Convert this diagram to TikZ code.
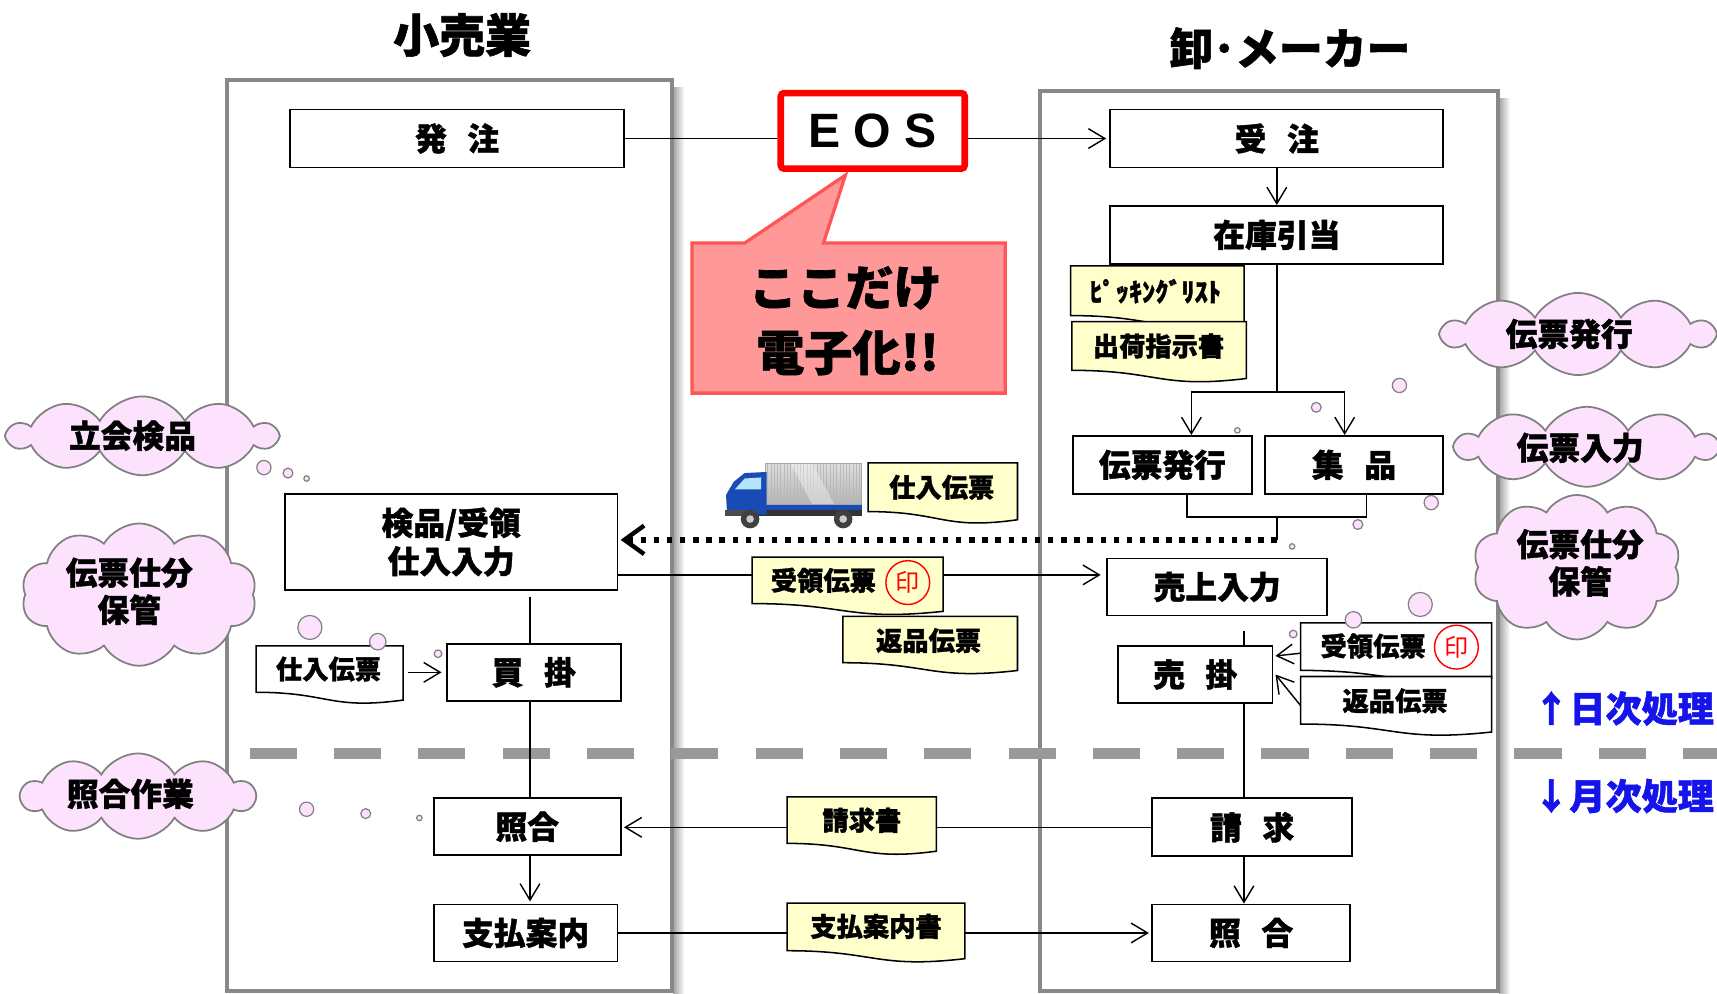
\documentclass[tikz,border=0pt]{standalone}
\usepackage{fontspec}
\setmainfont{Noto Sans CJK JP}[BoldFeatures={FakeBold=1.3}]
\newfontfamily\eosfont{Liberation Sans}
\usetikzlibrary{arrows.meta,calc,shapes.symbols,shapes.geometric}

\definecolor{lanegray}{RGB}{136,136,136}
\definecolor{cloudfill}{RGB}{252,226,252}
\definecolor{cloudedge}{RGB}{128,128,128}
\definecolor{docyellow}{RGB}{255,255,204}
\definecolor{calloutfill}{RGB}{255,153,153}
\definecolor{calloutedge}{RGB}{255,85,85}
\definecolor{eosred}{RGB}{255,0,0}
\definecolor{phaseblue}{RGB}{20,20,235}
\definecolor{truckblue}{RGB}{25,75,180}

\newcommand\fsz[1]{\fontsize{#1}{#1}\selectfont}

\pgfdeclarelayer{lanes}
\pgfdeclarelayer{links}
\pgfsetlayers{lanes,links,main}

% document symbol: flat top, wavy bottom, drawn around an empty body node
\newcommand\docshape[2]{%
  \path[docedge, fill=#2] let \p1=(#1.north), \p2=(#1.south), \n1={\y1-\y2} in
    (#1.north west) -- (#1.north east) -- ([yshift=-0.1675*\n1]#1.south east)
    .. controls ([yshift=-0.384*\n1]#1.south) and (#1.south) .. (#1.south west) -- cycle;}

\begin{document}
\begin{tikzpicture}[x=1pt,y=-1pt,
  lanebox/.style={draw=lanegray, line width=3.5pt, inner sep=0pt},
  proc/.style={draw, line width=1.6pt, fill=white, inner sep=0pt, font=\fsz{29}\bfseries},
  conn/.style={line width=1.3pt},
  arr/.style={conn, -{Straight Barb[length=15pt,width=18pt]}},
  shipline/.style={line width=5pt, dash pattern=on 5pt off 7pt,
    -{Straight Barb[length=18pt,width=26pt,line width=4pt]}},
  phaseline/.style={line width=10pt, black!40, dash pattern=on 43pt off 34pt},
  docbody/.style={inner sep=0pt},
  docedge/.style={draw, line width=1.4pt},
  doctext/.style={inner sep=0pt, font=\fsz{24}\bfseries},
  stamp/.style={circle, draw=red, line width=1.3pt, text=red, inner sep=0pt,
    minimum size=40pt, font=\fsz{22}},
  cloudbox/.style={cloud, cloud puffs=10, cloud puff arc=120, cloud ignores aspect,
    draw=cloudedge, fill=cloudfill, line width=1.6pt, inner sep=0pt},
  cloudtext/.style={inner sep=0pt, align=center, font=\fontsize{29}{34}\selectfont\bfseries},
  bubble/.style={circle, draw=cloudedge, fill=cloudfill, line width=1.1pt, inner sep=0pt},
  title/.style={inner sep=0pt, font=\fsz{42}\bfseries},
  phase/.style={anchor=west, inner sep=0pt, text=phaseblue, font=\fsz{33}\bfseries}]

\useasboundingbox (0,0) rectangle (1568,907);

% ---------- lanes and the daily/monthly divider ----------
\begin{pgfonlayer}{lanes}
  \shade[left color=black!35, right color=white] (615,80) rectangle (625,907);
  \shade[left color=black!35, right color=white] (1369,90) rectangle (1379,907);
  \node[lanebox, minimum width=407pt, minimum height=832pt] (laneL) at (410.5,489) {};
  \node[lanebox, minimum width=418pt, minimum height=822pt] (laneR) at (1159,494) {};
  \coordinate (divL) at (228,688);
  \coordinate (divR) at (1568,688);
  \draw[phaseline] (divL) -- (divR);
\end{pgfonlayer}

\node[title] (retail) at (422,32) {小売業};
\node[title, font=\fsz{40}\bfseries] (maker) at (1178,44) {卸･メーカー};

% ---------- process boxes ----------
\node[proc, minimum width=305pt, minimum height=53pt] (hatchu) at (417.5,126.5) {発\hspace{.65em}注};
\node[proc, minimum width=304pt, minimum height=88pt, align=center,
      font=\fontsize{29}{35}\selectfont\bfseries] (kenpin) at (412,495) {検品/受領\\仕入入力};
\node[proc, minimum width=159pt, minimum height=52pt] (kaikake) at (487.5,614) {買\hspace{.65em}掛};
\node[proc, minimum width=171pt, minimum height=52pt] (shogoL) at (481.5,755) {照合};
\node[proc, minimum width=168pt, minimum height=52pt] (shiharai) at (480,852) {支払案内};

\node[proc, minimum width=304pt, minimum height=53pt] (juchu) at (1166,126.5) {受\hspace{.65em}注};
\node[proc, minimum width=304pt, minimum height=53pt] (zaiko) at (1166,214.5) {在庫引当};
\node[proc, minimum width=163pt, minimum height=53pt] (denpyo) at (1061.5,424.5) {伝票発行};
\node[proc, minimum width=163pt, minimum height=53pt] (shuhin) at (1236.5,424.5) {集\hspace{.65em}品};
\node[proc, minimum width=201pt, minimum height=52pt] (uriage) at (1111.5,536) {売上入力};
\node[proc, minimum width=141pt, minimum height=52pt] (urikake) at (1091.5,616) {売\hspace{.65em}掛};
\node[proc, minimum width=183pt, minimum height=53pt] (seikyu) at (1143.5,755.5) {請\hspace{.65em}求};
\node[proc, minimum width=181pt, minimum height=52pt] (shogoR) at (1142.5,852) {照\hspace{.65em}合};

% ---------- EOS and the callout ----------
\node[draw=eosred, line width=6pt, fill=white, rounded corners=3pt, inner sep=0pt,
      minimum width=168pt, minimum height=69pt, font=\eosfont\bfseries\fsz{44}]
      (eos) at (797,119.5) {E O S};
\path[fill=calloutfill, draw=calloutedge, line width=3pt, line join=miter]
  (632,222) -- (680,222) -- (772,160) -- (752,222) -- (918,222) -- (918,359) -- (632,359) -- cycle;
\node[inner sep=0pt, font=\fsz{44}\bfseries] (calloutA) at (772,263) {ここだけ};
\node[inner sep=0pt, font=\fsz{44}\bfseries] (calloutB) at (774,322) {電子化!!};

% ---------- connectors ----------
\coordinate (lx) at (484,0);
\coordinate (rx) at (1136,0);
\coordinate (split) at (1166,358);
\coordinate (merge) at (1166,472);
\coordinate (ship) at (1166,493);
\coordinate (dIn) at ($(denpyo.north)+(26.5,0)$);
\coordinate (sIn) at ($(shuhin.north)+(-8.5,0)$);
\coordinate (dOut) at ($(denpyo.south)+(22.5,0)$);
\coordinate (sOut) at ($(shuhin.south)+(11.5,0)$);
\coordinate (kOut) at ($(kenpin.east)+(0,30)$);

\begin{pgfonlayer}{links}
  \draw[conn] (hatchu.east) -- (hatchu.east -| eos.west);
  \draw[arr] (juchu.west -| eos.east) -- ([xshift=-3pt]juchu.west);
  \draw[arr] (juchu.south) -- (zaiko.north);
  \draw[conn] (zaiko.south) -- (split);
  \draw[arr] (split) -| (dIn);
  \draw[arr] (split) -| (sIn);
  \draw[conn] (dOut) -- (dOut |- merge) -- (sOut |- merge) -- (sOut);
  \draw[conn] (merge) -- (ship);
  \draw[shipline] (ship) -- ([xshift=2pt]ship -| kenpin.east);
  \draw[arr] (kOut) -- ([xshift=-5pt]kOut -| uriage.west);
  \draw[conn] ($(kenpin.south -| lx)+(0,5)$) -- (kaikake.north -| lx);
  \draw[conn] (kaikake.south -| lx) -- (shogoL.north -| lx);
  \draw[arr] (shogoL.south -| lx) -- ([yshift=2pt]shiharai.north -| lx);
  \draw[arr] (seikyu.west) -- ([xshift=2pt]seikyu.west -| shogoL.east);
  \draw[arr] (shiharai.east) -- ([xshift=-2pt]shiharai.east -| shogoR.west);
  \draw[conn] ($(uriage.south -| rx)+(0,13)$) -- (urikake.north -| rx);
  \draw[conn] (urikake.south -| rx) -- (seikyu.north -| rx);
  \draw[arr] (seikyu.south -| rx) -- (shogoR.north -| rx);
\end{pgfonlayer}

% ---------- documents ----------
\node[docbody, minimum width=134pt, minimum height=42pt] (shiireL) at (301,611) {};
\docshape{shiireL}{white}
\node[doctext] (shiireLt) at (300,611) {仕入伝票};
\draw[arr] ([xshift=4pt]shiireL.east |- kaikake.west) -- ([xshift=-4pt]kaikake.west);

\node[docbody, minimum width=158pt, minimum height=45pt] (pick) at (1057,265.5) {};
\docshape{pick}{docyellow}
\node[doctext] (pickt) at (1055,266) {ﾋﾟｯｷﾝｸﾞﾘｽﾄ};

\node[docbody, minimum width=159pt, minimum height=44pt] (shukka) at (1058.5,316) {};
\docshape{shukka}{docyellow}
\node[doctext] (shukkat) at (1058,316) {出荷指示書};

\node[docbody, minimum width=136pt, minimum height=44pt] (shiireT) at (861,445) {};
\docshape{shiireT}{docyellow}
\node[doctext] (shiireTt) at (860,445) {仕入伝票};

\node[docbody, minimum width=174pt, minimum height=42pt] (juryoM) at (774,530) {};
\docshape{juryoM}{docyellow}
\node[doctext] (juryoMt) at (752,530) {受領伝票};
\node[stamp] (stampM) at (829,532) {印};

\node[docbody, minimum width=159pt, minimum height=42pt] (henpinM) at (849.5,584) {};
\docshape{henpinM}{docyellow}
\node[doctext] (henpinMt) at (848,585) {返品伝票};

\node[docbody, minimum width=136pt, minimum height=42pt] (seikyusho) at (787,749) {};
\docshape{seikyusho}{docyellow}
\node[doctext] (seikyushot) at (787,749) {請求書};

\node[docbody, minimum width=162pt, minimum height=43pt] (shiharaisho) at (800,846.5) {};
\docshape{shiharaisho}{docyellow}
\node[doctext] (shiharaishot) at (800,846) {支払案内書};

\node[docbody, minimum width=174pt, minimum height=43pt] (juryoR) at (1275,590.5) {};
\docshape{juryoR}{white}
\node[doctext] (juryoRt) at (1254,590) {受領伝票};
\node[stamp] (stampR) at (1330,591) {印};

\node[docbody, minimum width=174pt, minimum height=43pt] (henpinR) at (1275,639.5) {};
\docshape{henpinR}{white}
\node[doctext] (henpinRt) at (1274,640) {返品伝票};

\draw[arr] ($(juryoR.west)+(0,6)$) -- ($(urikake.east)+(2,-17)$);
\draw[arr] ($(henpinR.west)+(0,5)$) -- ($(urikake.east)+(2,0)$);

% ---------- delivery truck ----------
\shade[top color=gray!25, bottom color=gray!60] (699,423) rectangle (787,461);
\foreach \i in {0,...,28} \draw[gray!55, line width=0.5pt] (701+\i*3,424) -- (701+\i*3,460);
\fill[white, opacity=0.35] (722,423) -- (742,423) -- (762,461) -- (742,461) -- cycle;
\draw[gray!70, line width=0.8pt] (699,423) rectangle (787,461);
\fill[truckblue] (699,461) rectangle (787,467);
\fill[black!80] (690,466) rectangle (787,471);
\fill[truckblue] (664,470) -- (663,452) -- (670,440) -- (680,432) -- (700,431) -- (700,470) -- cycle;
\fill[cyan!30!white] (671,447) -- (680,437) -- (695,436) -- (695,447) -- cycle;
\fill[black!70] (662,466) rectangle (690,471);
\foreach \c in {(685,474),(770,474)} {\fill[black!75] \c circle (8.5); \fill[gray!40] \c circle (3.5);}

% ---------- clouds and thought bubbles ----------
\node[cloudbox, minimum width=244pt, minimum height=72pt] (cloudA) at (130,398) {};
\node[cloudtext] (cloudAt) at (121,398) {立会検品};
\node[bubble, minimum size=13pt] (bA1) at (241,427) {};
\node[bubble, minimum size=9pt] (bA2) at (263,432) {};
\node[bubble, minimum size=5pt] (bA3) at (280,437) {};

\node[cloudbox, minimum width=215pt, minimum height=130pt] (cloudB) at (127,543) {};
\node[cloudtext] (cloudBt) at (118,540) {伝票仕分\\保管};
\node[bubble, minimum size=22pt] (bB1) at (283,573) {};
\node[bubble, minimum size=15pt] (bB2) at (345,586) {};
\node[bubble, minimum size=7pt] (bB3) at (400,597) {};

\node[cloudbox, minimum width=213pt, minimum height=78pt] (cloudC) at (126,727) {};
\node[cloudtext] (cloudCt) at (119,725) {照合作業};
\node[bubble, minimum size=13pt] (bC1) at (280,739) {};
\node[bubble, minimum size=9pt] (bC2) at (334,743) {};
\node[bubble, minimum size=5pt] (bC3) at (383,747) {};

\node[cloudbox, minimum width=247pt, minimum height=75pt] (cloudD) at (1441,305) {};
\node[cloudtext] (cloudDt) at (1433,305) {伝票発行};
\node[bubble, minimum size=13pt] (bD1) at (1278,352) {};
\node[bubble, minimum size=9pt] (bD2) at (1202,372) {};
\node[bubble, minimum size=5pt] (bD3) at (1130,393) {};

\node[cloudbox, minimum width=238pt, minimum height=73pt] (cloudE) at (1449,408) {};
\node[cloudtext] (cloudEt) at (1443,409) {伝票入力};
\node[bubble, minimum size=13pt] (bE1) at (1307,459) {};
\node[bubble, minimum size=9pt] (bE2) at (1240,479) {};
\node[bubble, minimum size=5pt] (bE3) at (1180,499) {};

\node[cloudbox, minimum width=190pt, minimum height=132pt] (cloudF) at (1440,518) {};
\node[cloudtext] (cloudFt) at (1443,514) {伝票仕分\\保管};
\node[bubble, minimum size=22pt] (bF1) at (1297,552) {};
\node[bubble, minimum size=15pt] (bF2) at (1236,566) {};
\node[bubble, minimum size=7pt] (bF3) at (1181,579) {};

% ---------- phase labels ----------
\node[phase] (daily) at (1400,647) {↑日次処理};
\node[phase] (monthly) at (1400,727) {↓月次処理};

\end{tikzpicture}
\end{document}
